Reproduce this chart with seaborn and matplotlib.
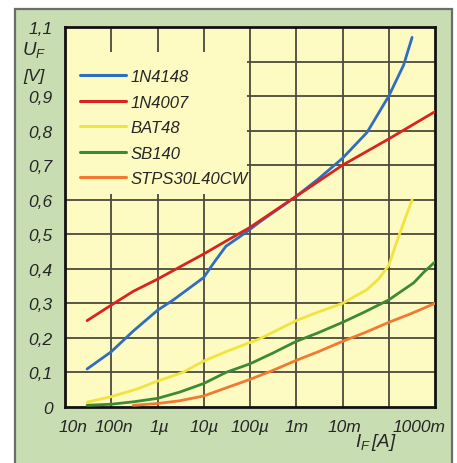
import numpy as np
import pandas as pd
import matplotlib
matplotlib.use("Agg")
import matplotlib.pyplot as plt
import matplotlib.patches as mpatches
from matplotlib.font_manager import FontProperties
from matplotlib.transforms import ScaledTranslation
import seaborn as sns

# Forward characteristics U_F over I_F (currents in A, voltages in V)
i_1n4148 = [3e-8, 1e-7, 3e-7, 1e-6, 2.2e-6, 1e-5, 1.6e-5, 3e-5, 8.5e-5, 1.6e-4, 1e-3, 3e-3, 1e-2, 3.4e-2, 1e-1, 2.1e-1, 3.2e-1]
u_1n4148 = [0.11, 0.16, 0.22, 0.28, 0.31, 0.375, 0.415, 0.465, 0.507, 0.535, 0.61, 0.66, 0.72, 0.795, 0.90, 0.99, 1.07]

i_1n4007 = [3e-8, 1e-7, 3e-7, 1e-6, 3e-6, 1e-5, 3e-5, 1e-4, 1e-3, 1e-2, 1e-1, 1.0]
u_1n4007 = [0.25, 0.295, 0.335, 0.37, 0.405, 0.443, 0.48, 0.52, 0.61, 0.70, 0.776, 0.855]

i_bat48 = [3e-8, 1e-7, 3.6e-7, 1e-6, 3.5e-6, 1e-5, 3e-5, 1.6e-4, 1e-3, 3e-3, 1e-2, 3.4e-2, 6e-2, 1e-1, 1.6e-1, 3.2e-1]
u_bat48 = [0.014, 0.03, 0.052, 0.075, 0.10, 0.133, 0.16, 0.197, 0.25, 0.275, 0.30, 0.34, 0.37, 0.41, 0.49, 0.60]

i_sb140 = [3e-8, 1e-7, 3e-7, 1e-6, 3e-6, 1e-5, 3e-5, 1e-4, 3e-4, 1e-3, 3e-3, 1e-2, 3e-2, 1e-1, 3.5e-1, 5.7e-1, 1.0]
u_sb140 = [0.005, 0.008, 0.015, 0.025, 0.043, 0.068, 0.10, 0.125, 0.155, 0.19, 0.215, 0.245, 0.275, 0.31, 0.36, 0.39, 0.42]

i_stps = [3e-7, 1e-6, 3e-6, 1e-5, 3e-5, 1e-4, 3e-4, 1e-3, 3e-3, 1e-2, 3e-2, 1e-1, 3e-1, 1.0]
u_stps = [0.005, 0.01, 0.018, 0.032, 0.055, 0.08, 0.105, 0.135, 0.16, 0.19, 0.215, 0.245, 0.27, 0.30]

diodes = ["1N4148", "1N4007", "BAT48", "SB140", "STPS30L40CW"]
colors = ["#2f6dc0", "#d8231f", "#f2e43c", "#3c8a32", "#f07a32"]

x_ticks = [1e-8, 1e-7, 1e-6, 1e-5, 1e-4, 1e-3, 1e-2, 1e-1, 1.0]
x_labels = ["10n", "100n", "1µ", "10µ", "100µ", "1m", "10m", "", "1000m"]
y_ticks = [0.0, 0.1, 0.2, 0.3, 0.4, 0.5, 0.6, 0.7, 0.8, 0.9, 1.0, 1.1]
y_labels = ["0", "0,1", "0,2", "0,3", "0,4", "0,5", "0,6", "0,7", "0,8", "0,9", "", "1,1"]

frames = []
for name, i, u in zip(diodes,
                      [i_1n4148, i_1n4007, i_bat48, i_sb140, i_stps],
                      [u_1n4148, u_1n4007, u_bat48, u_sb140, u_stps]):
    frames.append(pd.DataFrame({"I": i, "U": u, "Diode": name}))
df = pd.concat(frames, ignore_index=True)

sns.set_style("white")
plt.rcParams["font.family"] = ["Liberation Sans", "DejaVu Sans"]
plt.rcParams["font.style"] = "italic"
plt.rcParams["mathtext.fontset"] = "custom"
plt.rcParams["mathtext.it"] = "Liberation Sans:italic"
plt.rcParams["mathtext.rm"] = "Liberation Sans:italic"

W, H = 457, 464
fig = plt.figure(figsize=(W / 100, H / 100), dpi=100)
fig.patch.set_facecolor("white")

# green panel behind the chart
panel = mpatches.Rectangle((15 / W, -0.02), (452 - 15) / W, 1.02 - 10 / H,
                           transform=fig.transFigure, facecolor="#c8ddb2",
                           edgecolor="#6d6d68", linewidth=1.6, zorder=-5)
fig.patches.append(panel)

bg = "#fdfbc2"
ax = fig.add_axes([65 / W, 56 / H, 370 / W, 380 / H])
ax.set_zorder(2)
ax.set_facecolor(bg)

grid_col = "#4b4a3c"
for yv in y_ticks[1:-1]:
    ax.axhline(yv, color=grid_col, lw=1.3, zorder=1)
for xv in x_ticks[1:-1]:
    ax.axvline(xv, color=grid_col, lw=1.3, zorder=1)

# plain area behind the legend, hiding the grid there
ax.add_patch(mpatches.Rectangle((0.0, 0.5605), 0.492, 0.3737, transform=ax.transAxes,
                                facecolor=bg, edgecolor="none", zorder=2))

sns.lineplot(data=df, x="I", y="U", hue="Diode", hue_order=diodes,
             palette=colors, linewidth=2.0, sort=True, estimator=None,
             ax=ax, zorder=3)

ax.set_xscale("log")
ax.set_xlim(1e-8, 1.0)
ax.set_ylim(0, 1.1)
ax.minorticks_off()
ax.tick_params(axis="x", length=0, pad=9)
ax.tick_params(axis="y", length=6, width=1.3, color=grid_col, direction="out", pad=3)

tick_font = FontProperties(family="Liberation Sans", style="italic", size=12.5)
ax.set_xticks(x_ticks)
ax.set_xticklabels(x_labels, fontproperties=tick_font)
ax.set_yticks(y_ticks)
ax.set_yticklabels(y_labels, fontproperties=tick_font)
ax.set_xlabel("")
ax.set_ylabel("")

x_shift = [8, 3, 2, 0, 0, 0, 2, 0, -16]
for lab, dx in zip(ax.get_xticklabels(), x_shift):
    lab.set_transform(lab.get_transform() + ScaledTranslation(dx / 100, 0, fig.dpi_scale_trans))

for sp in ax.spines.values():
    sp.set_visible(True)
    sp.set_color("#111111")
    sp.set_linewidth(2.0)

leg = ax.legend(title=None, loc="upper left", bbox_to_anchor=(0.04, 0.889),
                frameon=False,
                prop=FontProperties(family="Liberation Sans", style="italic", size=12),
                handlelength=2.75, handletextpad=0.3, labelspacing=0.63,
                borderpad=0.0, borderaxespad=0.0)
leg.set_zorder(4)
for line in leg.get_lines():
    line.set_linewidth(2.2)

fig.text(34 / W, 1 - 50 / H, r"$U_F$", fontsize=13.5, ha="center", va="center")
fig.text(34 / W, 1 - 77 / H, "[V]", fontproperties=tick_font, ha="center", va="center")
fig.text(376 / W, 1 - 443 / H, r"$I_F\,[A]$", fontsize=13.5, ha="center", va="center")

fig.savefig("out.png", dpi=100)
